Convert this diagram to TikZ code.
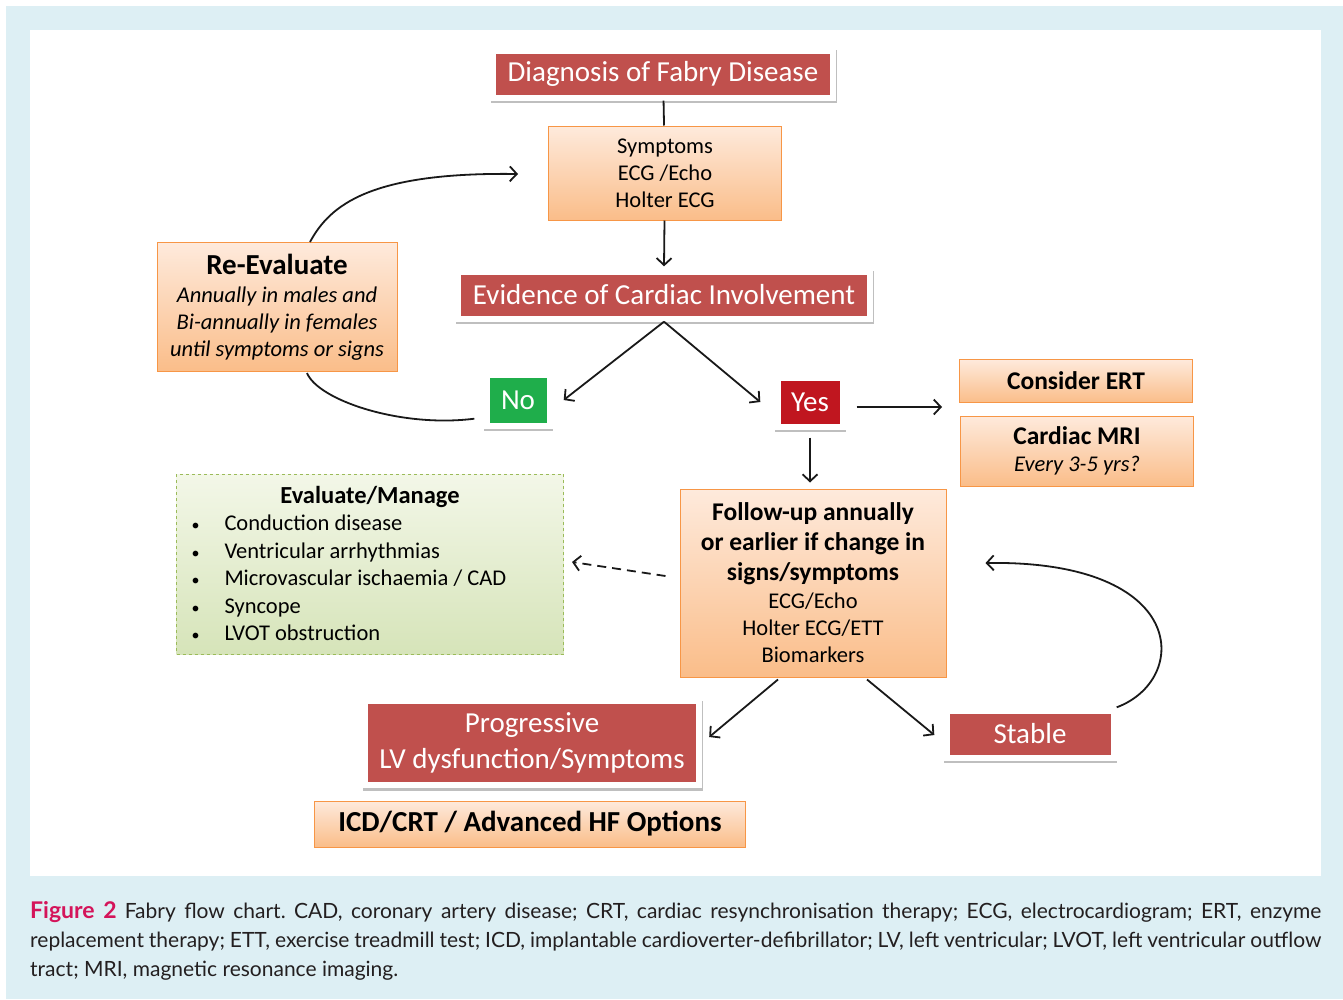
\documentclass[tikz,border=0pt]{standalone}
\usepackage{fontspec}
\setmainfont{Carlito}
\newfontfamily\capfont{Lato}
\usetikzlibrary{arrows.meta,shadows,positioning}
\definecolor{boxred}{HTML}{C0504D}
\definecolor{yesred}{HTML}{C0161F}
\definecolor{nogreen}{HTML}{1FAE4B}
\definecolor{edgeorange}{HTML}{F79646}
\definecolor{toporange}{HTML}{FEEADC}
\definecolor{botorange}{HTML}{FABD89}
\definecolor{edgegreen}{HTML}{9BBB59}
\definecolor{topgreen}{HTML}{F3F7E8}
\definecolor{botgreen}{HTML}{D6E4B9}
\definecolor{panelblue}{HTML}{DDEFF4}
\definecolor{figred}{HTML}{D4145A}
\definecolor{captext}{HTML}{231F20}

\begin{document}
\begin{tikzpicture}[x=1pt,y=-1pt,
  framed/.style={fill=white, inner sep=0pt,
    drop shadow={shadow xshift=0.8pt, shadow yshift=-2.5pt, opacity=0.25, fill=black}},
  redbox/.style={framed, text=white, font=\fontsize{29}{36}\selectfont,
    path picture={\fill[#1] ([shift={(6,6)}]path picture bounding box.north west)
      rectangle ([shift={(-6,-6)}]path picture bounding box.south east);}},
  redbox/.default=boxred,
  orangebox/.style={draw=edgeorange, line width=1pt, top color=toporange,
    bottom color=botorange, inner sep=0pt, align=center,
    font=\fontsize{22.5}{27}\selectfont},
  arr/.style={-{Straight Barb[length=7pt,width=15pt]}, line width=1.8pt, black!90},
  link/.style={line width=1.8pt, black!90}]
% panel and frame
\fill[white] (0,0) rectangle (1343,999);
\fill[panelblue] (6,6) rectangle (1343,999);
\fill[white] (30,30) rectangle (1321,876);
\useasboundingbox (0,0) rectangle (1343,999);

% boxes
\node[redbox, minimum width=346pt, minimum height=53pt] (diag) at (663,74) {Diagnosis of Fabry Disease};
\node[orangebox, minimum width=233pt, minimum height=94pt] (symp) at (665,173) {Symptoms\\ECG /Echo\\Holter ECG};
\node[redbox, minimum width=418pt, minimum height=53pt] (evid) at (664,295) {Evidence of Cardiac Involvement};
\node[orangebox, minimum width=240pt, minimum height=129pt] (reeval) at (277,307)
  {{\bfseries\fontsize{29}{31}\selectfont Re-Evaluate}\\[1pt]\itshape Annually in males and\\\itshape Bi-annually in females\\\itshape until symptoms or signs};
\node[redbox=nogreen, minimum width=69pt, minimum height=57pt] (no) at (518,400) {No};
\node[redbox=yesred, minimum width=71pt, minimum height=55pt] (yes) at (810,402) {Yes};
\node[orangebox, minimum width=233pt, minimum height=43pt, font=\bfseries\fontsize{25.5}{27}\selectfont] (ert) at (1076,381) {Consider ERT};
\node[orangebox, minimum width=233pt, minimum height=70pt] (mri) at (1077,451)
  {{\bfseries\fontsize{25.5}{27}\selectfont Cardiac MRI}\\\itshape Every 3-5 yrs?};
\node[draw=edgegreen, dashed, line width=1pt, top color=topgreen, bottom color=botgreen,
  minimum width=387pt, minimum height=180pt, inner sep=0pt,
  font=\fontsize{22.5}{27.4}\selectfont] (manage) at (370,564)
  {\begin{tabular}{@{}p{33pt}@{}p{324pt}@{}}
   \multicolumn{2}{c}{\rule{0pt}{24pt}\bfseries\fontsize{24.5}{27.4}\selectfont Evaluate/Manage}\\
   {\fontsize{16}{27.4}\selectfont\textbullet} & Conduction disease\\
   {\fontsize{16}{27.4}\selectfont\textbullet} & Ventricular arrhythmias\\
   {\fontsize{16}{27.4}\selectfont\textbullet} & Microvascular ischaemia / CAD\\
   {\fontsize{16}{27.4}\selectfont\textbullet} & Syncope\\
   {\fontsize{16}{27.4}\selectfont\textbullet} & LVOT obstruction
   \end{tabular}};
\node[orangebox, minimum width=266pt, minimum height=188pt] (follow) at (813,583)
  {{\bfseries\fontsize{25.5}{31}\selectfont Follow-up annually}\\[3pt]
   {\bfseries\fontsize{25.5}{31}\selectfont or earlier if change in}\\[3pt]
   {\bfseries\fontsize{25.5}{31}\selectfont signs/symptoms}\\[1pt]
   ECG/Echo\\Holter ECG/ETT\\Biomarkers};
\node[redbox, minimum width=340pt, minimum height=90pt, align=center] (prog) at (532,743)
  {Progressive\\LV dysfunction/Symptoms};
\node[orangebox, minimum width=431pt, minimum height=46pt, font=\bfseries\fontsize{29}{30}\selectfont] (icd) at (530,824)
  {ICD/CRT / Advanced HF Options};
\node[redbox, minimum width=173pt, minimum height=53pt] (stable) at (1030,734) {Stable};
\coordinate (mrigap) at (942,407);

% connectors
\draw[link] (diag) -- (symp);
\draw[arr] (symp) -- ([yshift=2pt]evid.north);
\draw[arr] (evid.south) -- ([xshift=11pt]no.east);
\draw[arr] (evid.south) -- ([xshift=-14pt]yes.west);
\draw[arr] ([shift={(11,5)}]yes.east) -- (mrigap);
\draw[arr] ([yshift=-8pt]yes.south) -- ([yshift=6pt]yes.south |- follow.north);
\draw[arr, dash pattern=on 9pt off 6pt] ([shift={(-14,-7)}]follow.west) -- ([shift={(8,-2)}]manage.east);
\draw[arr] ([shift={(-35,2)}]follow.south) -- ([shift={(7,-6)}]prog.east);
\draw[arr] ([shift={(54,2)}]follow.south) -- ([shift={(-9,1)}]stable.west);
\draw[arr] (stable.north east) .. controls (1190,680) and (1190,560) .. ([shift={(39,-20)}]follow.east);
\draw[link] ([shift={(-9,-10)}]no.south west) .. controls (400,428) and (318,400) .. ([shift={(30,1)}]reeval.south);
\draw[arr] ([shift={(33,0)}]reeval.north) .. controls (330,205) and (370,172) .. ([shift={(-30,1)}]symp.west);

% caption
\node[anchor=north west, inner sep=0pt, text width=1291pt, align=justify, text=captext,
  font=\capfont\fontsize{21}{29}\selectfont\frenchspacing] (caption) at (30,901)
  {{\color{figred}\bfseries\fontsize{23}{29}\selectfont Figure 2}\hspace{8pt}Fabry flow chart. CAD, coronary artery disease; CRT, cardiac resynchronisation therapy; ECG, electrocardiogram; ERT, enzyme\linebreak
   replacement therapy; ETT, exercise treadmill test; ICD, implantable cardioverter-defibrillator; LV, left ventricular; LVOT, left ventricular outflow\linebreak
   tract; MRI, magnetic resonance imaging.};
\end{tikzpicture}
\end{document}
